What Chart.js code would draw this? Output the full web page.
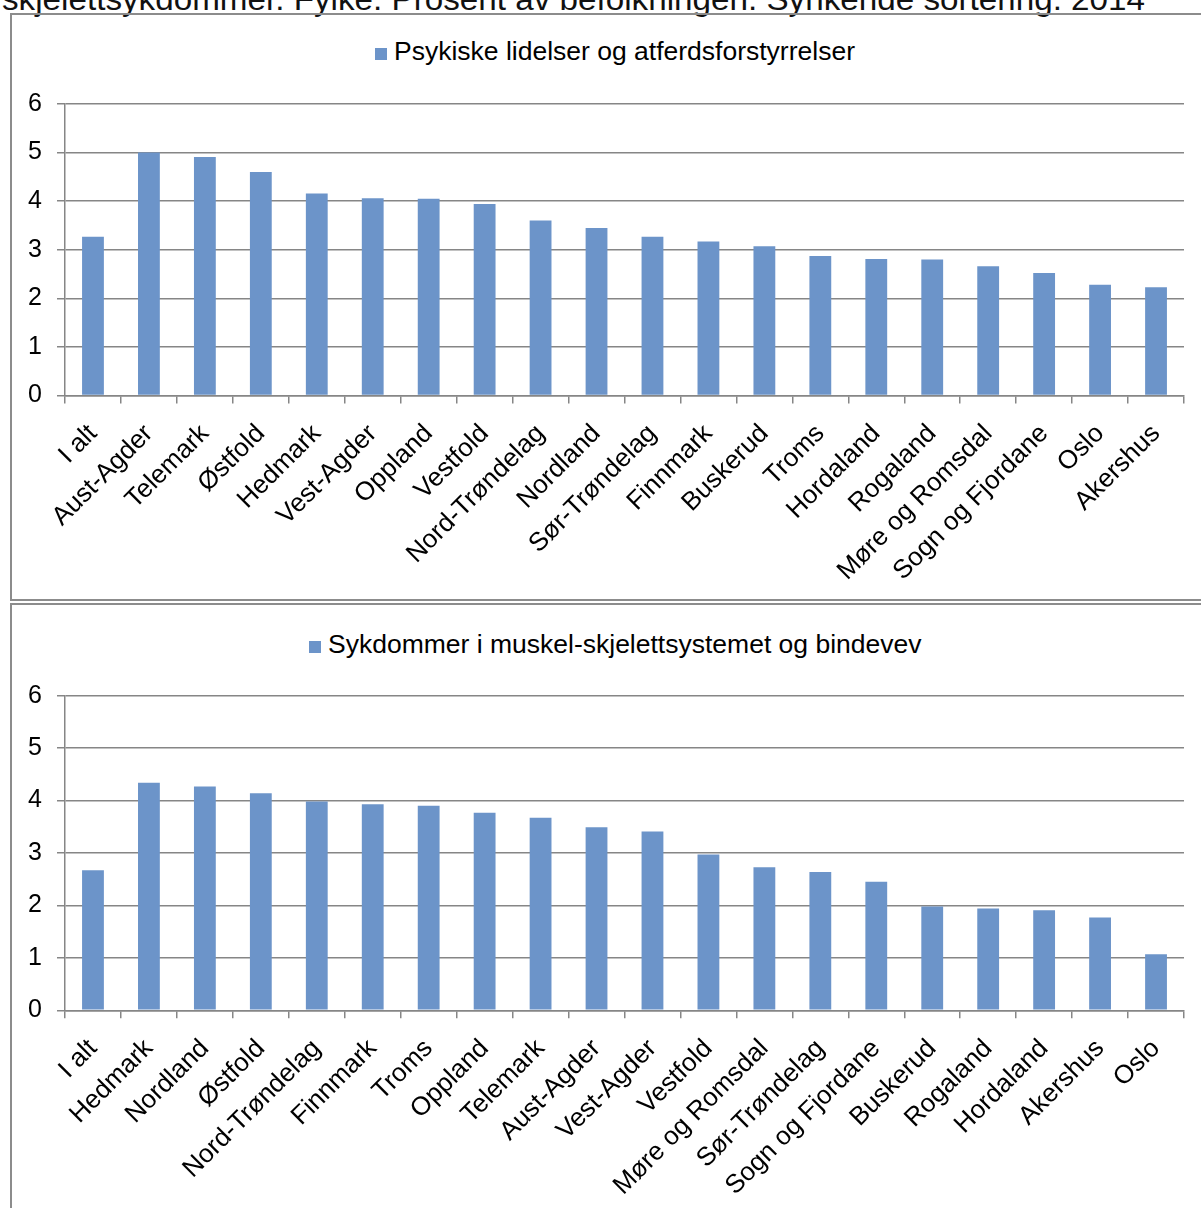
<!DOCTYPE html>
<html>
<head>
<meta charset="utf-8">
<script src="https://cdn.jsdelivr.net/npm/chart.js@4.4.1/dist/chart.umd.min.js"></script>
<style>
  html, body { margin: 0; padding: 0; background: #fff; overflow: hidden; }
  body { width: 1201px; height: 1208px; position: relative; font-family: 'Liberation Sans', Arial, sans-serif; }
  .panel { position: absolute; border: 2px solid #8c8c8c; box-sizing: border-box; }
  .title { position: absolute; left: 2px; top: -16px; font-size: 31px; line-height: 31px; color: #111; white-space: nowrap; transform-origin: 0 0; }
  .legend { position: absolute; font-size: 26.5px; line-height: 26px; color: #000; white-space: nowrap; }
  .legend .box { display: inline-block; width: 12px; height: 12px; background: #6c94c9; margin-right: 7px; vertical-align: 0px; }
  canvas { position: absolute; left: 0; }
</style>
</head>
<body>
<div class="title" id="title">skjelettsykdommer. Fylke. Prosent av befolkningen. Synkende sortering. 2014</div>
<div class="panel" style="left:10px; top:13px; width:1210px; height:588px;"></div>
<div class="panel" style="left:10px; top:603px; width:1210px; height:620px;"></div>
<div class="legend" id="leg1" style="left:375px; top:37.5px;"><span class="box"></span><span>Psykiske lidelser og atferdsforstyrrelser</span></div>
<div class="legend" id="leg2" style="left:309px; top:631px;"><span class="box"></span><span>Sykdommer i muskel-skjelettsystemet og bindevev</span></div>
<canvas id="c1" width="1201" height="600" style="top:0px;"></canvas>
<canvas id="c2" width="1201" height="605" style="top:603px;"></canvas>
<script>
const psykCategories = ['I alt','Aust-Agder','Telemark','Østfold','Hedmark','Vest-Agder','Oppland','Vestfold','Nord-Trøndelag','Nordland','Sør-Trøndelag','Finnmark','Buskerud','Troms','Hordaland','Rogaland','Møre og Romsdal','Sogn og Fjordane','Oslo','Akershus'];
const psykValues = [3.27,5.00,4.91,4.60,4.16,4.06,4.05,3.94,3.60,3.45,3.27,3.17,3.07,2.87,2.81,2.80,2.66,2.52,2.28,2.23];
const muskCategories = ['I alt','Hedmark','Nordland','Østfold','Nord-Trøndelag','Finnmark','Troms','Oppland','Telemark','Aust-Agder','Vest-Agder','Vestfold','Møre og Romsdal','Sør-Trøndelag','Sogn og Fjordane','Buskerud','Rogaland','Hordaland','Akershus','Oslo'];
const muskValues = [2.67,4.34,4.27,4.14,3.98,3.93,3.90,3.77,3.67,3.49,3.41,2.97,2.73,2.64,2.45,1.98,1.94,1.91,1.77,1.07];
const yTicks = [0,1,2,3,4,5,6];
const psykLabel = 'Psykiske lidelser og atferdsforstyrrelser';
const muskLabel = 'Sykdommer i muskel-skjelettsystemet og bindevev';

// fit the clipped title to its width
(function(){
  const t = document.getElementById('title');
  const w = t.getBoundingClientRect().width;
  t.style.transform = 'scaleX(' + (1143 / w) + ')';
})();

const XFONT = { family: "'Liberation Sans', Arial, sans-serif", size: 26 };
const YFONT = { family: "'Liberation Sans', Arial, sans-serif", size: 25 };
const GRID = '#868686';

function makeChart(id, labels, values, label, padTop, xHeight) {
  return new Chart(document.getElementById(id), {
    type: 'bar',
    data: {
      labels: labels,
      datasets: [{
        label: label,
        data: values,
        backgroundColor: '#6c94c9',
        borderWidth: 0,
        categoryPercentage: 1.0,
        barPercentage: 0.39
      }]
    },
    options: {
      responsive: false,
      animation: false,
      events: [],
      layout: { padding: { top: padTop, right: 17, left: 0, bottom: 0 } },
      plugins: { legend: { display: false }, tooltip: { enabled: false }, title: { display: false } },
      scales: {
        x: {
          offset: true,
          grid: { display: true, offset: true, drawOnChartArea: false, drawTicks: true, tickLength: 8, color: GRID, lineWidth: 1.5 },
          border: { display: true, color: GRID, width: 1.5 },
          ticks: { autoSkip: false, minRotation: 45, maxRotation: 45, padding: 15, color: '#000', font: XFONT },
          afterFit: function(s) { s.height = xHeight; }
        },
        y: {
          min: 0, max: 6,
          afterBuildTicks: function(s) { s.ticks = yTicks.map(v => ({ value: v })); },
          grid: { display: true, drawTicks: true, tickLength: 8, color: GRID, lineWidth: 1.5 },
          border: { display: true, color: GRID, width: 1.5 },
          ticks: { padding: 15, color: '#000', font: YFONT },
          afterFit: function(s) { s.width = 65; }
        }
      }
    }
  });
}

makeChart('c1', psykCategories, psykValues, psykLabel, 104, 600 - 395.5);
makeChart('c2', muskCategories, muskValues, muskLabel, 92.7, 605 - 407.3);
</script>
</body>
</html>
